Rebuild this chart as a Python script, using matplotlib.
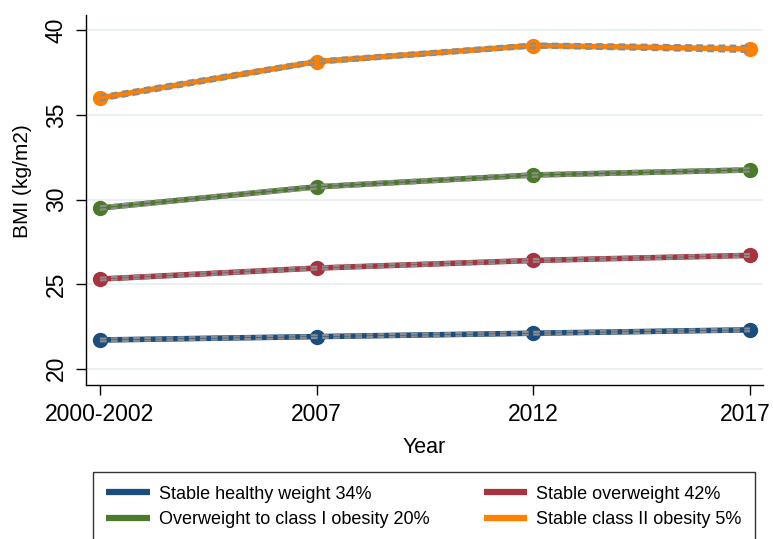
import matplotlib.pyplot as plt
import matplotlib.transforms as mtransforms
import numpy as np

# Survey waves and mean BMI per trajectory group
years = ["2000-2002", "2007", "2012", "2017"]
healthy = [21.7, 21.9, 22.1, 22.3]
overweight = [25.3, 25.95, 26.4, 26.7]
ow_to_obese1 = [29.5, 30.75, 31.45, 31.75]
obese2 = [36.0, 38.15, 39.1, 38.9]

# Half-width of the 95% confidence band per group
ci_healthy = [0.08, 0.08, 0.08, 0.08]
ci_overweight = [0.08, 0.08, 0.08, 0.08]
ci_ow_to_obese1 = [0.1, 0.1, 0.1, 0.1]
ci_obese2 = [0.15, 0.12, 0.12, 0.18]

labels = ["Stable healthy weight 34%", "Stable overweight 42%",
          "Overweight to class I obesity 20%", "Stable class II obesity 5%"]
colors = ["#1a4d80", "#a8323d", "#4b7a2a", "#ff8000"]

plt.rcParams['font.family'] = ['Liberation Sans', 'DejaVu Sans']

fig = plt.figure(figsize=(7.73, 5.39), dpi=100)
ax = fig.add_axes([0.111, 0.286, 0.876, 0.686])

x = np.arange(len(years))
series = [healthy, overweight, ow_to_obese1, obese2]
cis = [ci_healthy, ci_overweight, ci_ow_to_obese1, ci_obese2]

handles = []
for vals, ci, col, lab in zip(series, cis, colors, labels):
    vals = np.array(vals)
    ci = np.array(ci)
    h, = ax.plot(x, vals, color=col, lw=4, marker="o", ms=10, label=lab,
                 solid_capstyle="round", zorder=3)
    ax.plot(x, vals + ci, color="#8c8c8c", lw=1.6, ls=(0, (3, 2)), zorder=4)
    ax.plot(x, vals - ci, color="#8c8c8c", lw=1.6, ls=(0, (3, 2)), zorder=4)
    handles.append(h)

ax.set_xlim(-0.065, 3.06)
ax.set_ylim(19.05, 40.9)
ax.set_xticks(x)
ax.set_xticklabels(years, fontsize=16.5)
ax.set_yticks([20, 25, 30, 35, 40])
ax.set_yticklabels(["20", "25", "30", "35", "40"], fontsize=16.5,
                   rotation=90, va="center")
ax.grid(axis="y", color="#e6eff1", lw=1.2)
ax.set_axisbelow(True)
ax.tick_params(length=7, width=1, color="black", pad=6)
for s in ["top", "right"]:
    ax.spines[s].set_visible(False)
ax.spines["left"].set_linewidth(1)
ax.spines["bottom"].set_linewidth(1)

# nudge the last year label so it stays inside the figure
last = ax.get_xticklabels()[-1]
last.set_transform(last.get_transform() +
                   mtransforms.ScaledTranslation(-5 / 100, 0, fig.dpi_scale_trans))

ax.set_xlabel("Year", fontsize=15.5, labelpad=8)
ax.set_ylabel("BMI (kg/m2)", fontsize=15)
ax.yaxis.set_label_coords(-0.079, 0.55)

# legend laid out row by row: healthy / overweight, then class I / class II
leg_handles = [handles[0], handles[2], handles[1], handles[3]]
leg_labels = [labels[0], labels[2], labels[1], labels[3]]
leg = fig.legend(leg_handles, leg_labels, ncol=2, loc="upper left",
                 bbox_to_anchor=(0.12, 0.124, 0.857, 0.0), mode="expand",
                 borderaxespad=0,
                 fontsize=13, frameon=True, fancybox=False, edgecolor="black",
                 handlelength=2.4, handletextpad=0.5, columnspacing=3,
                 labelspacing=0.45, borderpad=0.75)
leg.get_frame().set_linewidth(1)
for lh in leg.get_lines():
    lh.set_marker("")
    lh.set_linewidth(4.5)
    lh.set_solid_capstyle("butt")

fig.savefig("out.png", dpi=100)
